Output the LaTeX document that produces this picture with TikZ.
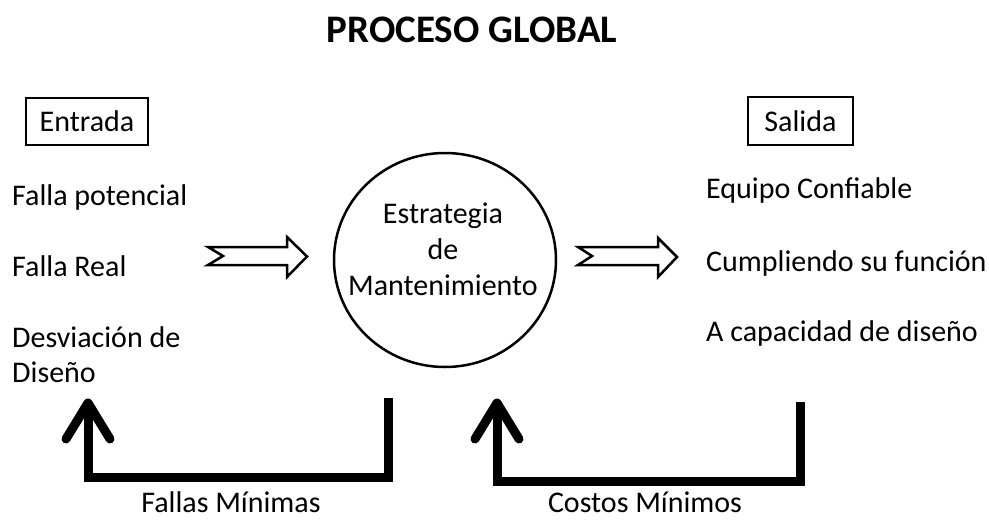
\documentclass[tikz,border=0pt]{standalone}
\usepackage{fontspec}
\setmainfont{Carlito}
\tikzset{
  txt/.style={inner sep=0pt, font=\fontsize{30}{36}\selectfont},
  labelbox/.style={draw, line width=2.5pt, inner xsep=7pt, inner ysep=6pt, font=\fontsize{30}{36}\selectfont},
  hollowarrow/.style={draw, line width=2.5pt, line join=miter, fill=white},
  feedback/.style={line width=9pt, line join=miter},
  chevron/.style={line width=9pt, line cap=round, line join=round},
}
\begin{document}
\begin{tikzpicture}[x=1pt,y=-1pt]
\useasboundingbox (0,0) rectangle (989,520);
% title
\node[inner sep=0pt, anchor=base, font=\fontsize{39}{45}\selectfont\bfseries] (title) at (472,42) {PROCESO GLOBAL};
% boxes
\node[labelbox, minimum width=122pt, minimum height=47pt] (entrada) at (87,121.5) {Entrada};
\node[labelbox, minimum width=105pt, minimum height=48pt] (salida) at (800.5,121) {Salida};
% left texts
\node[txt, anchor=base west] (l1) at (12,205) {Falla potencial};
\node[txt, anchor=base west] (l2) at (12,276) {Falla Real};
\node[txt, anchor=base west] (l3) at (12,347) {Desviación de};
\node[txt, anchor=base west] (l4) at (12,382) {Diseño};
% right texts
\node[txt, anchor=base west] (r1) at (706,198) {Equipo Confiable};
\node[txt, anchor=base west] (r2) at (706,271) {Cumpliendo su función};
\node[txt, anchor=base west] (r3) at (706,341) {A capacidad de diseño};
% circle
\draw[line width=2.5pt] (445,260) circle [x radius=111, y radius=107];
\node[draw=none, minimum size=214pt, inner sep=0pt] (strat) at (445,260) {};
\node[txt, anchor=base] (s1) at (443,223) {Estrategia};
\node[txt, anchor=base] (s2) at (443,259) {de};
\node[txt, anchor=base] (s3) at (443,295) {Mantenimiento};
% hollow arrows
\path[hollowarrow] (208,247) -- (287,247) -- (287,237) -- (307,256.5) -- (287,277) -- (287,265) -- (208,265) -- (223,256) -- cycle;
\path[hollowarrow] (578,247) -- (658,247) -- (658,238) -- (677,257) -- (658,277) -- (658,265) -- (578,265) -- (592,256) -- cycle;
% feedback loops
\coordinate (fa) at (388,398);
\coordinate (fb) at (388,477);
\coordinate (fc) at (88,477);
\coordinate (fd) at (88,403);
\draw[feedback] (fa) -- (fb) -- (fc) -- (fd);
\draw[chevron] (66,439) -- (fd) -- (110,439);
\coordinate (ga) at (800,402);
\coordinate (gb) at (800,481);
\coordinate (gc) at (497,481);
\coordinate (gd) at (497,403);
\draw[feedback] (ga) -- (gb) -- (gc) -- (gd);
\draw[chevron] (475,439) -- (gd) -- (519,439);
% bottom labels
\node[txt, anchor=base] (fm) at (231,512) {Fallas Mínimas};
\node[txt, anchor=base] (cm) at (645,512) {Costos Mínimos};
\end{tikzpicture}
\end{document}
